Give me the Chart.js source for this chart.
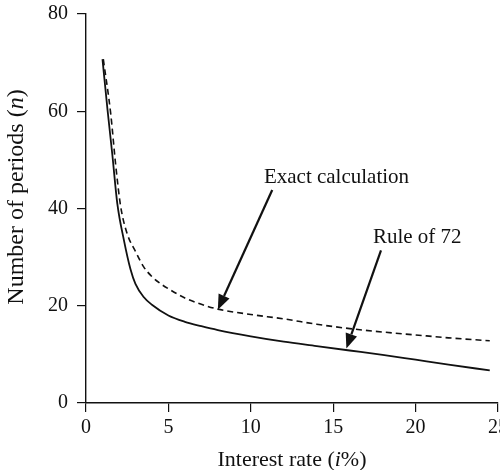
<!DOCTYPE html>
<html>
<head>
<meta charset="utf-8">
<script src="https://cdn.jsdelivr.net/npm/chart.js@4"></script>
<style>
  html, body { margin: 0; padding: 0; background: #fff; }
</style>
</head>
<body>
<canvas id="myChart" width="500" height="470"></canvas>
<script>
// values
const rateRule = [1.0, 1.3, 1.6, 1.9, 2.3, 2.7, 3.0, 3.5, 4.0, 5.0, 6.0, 7.0, 8.0, 10, 12, 14, 16, 18, 20, 22, 24.5];
const periodsRule = [70.7, 60.5, 51, 41, 33.5, 27.5, 24.5, 21.8, 20.2, 18.0, 16.7, 15.8, 15.0, 13.7, 12.6, 11.7, 10.8, 9.9, 8.9, 7.9, 6.7];
const rateExact = [1.05, 1.5, 1.8, 2.1, 2.5, 3.0, 3.5, 4.0, 4.5, 5.0, 6.0, 7.0, 8.0, 10, 12, 14, 16, 18, 20, 22, 24.5];
const periodsExact = [70.7, 59.5, 49, 40.5, 34.8, 31.2, 28, 26, 24.6, 23.5, 21.6, 20.3, 19.3, 18.2, 17.3, 16.2, 15.3, 14.6, 14.0, 13.4, 12.8];
const xTicks = [0, 5, 10, 15, 20, 25];
const yTicks = [0, 20, 40, 60, 80];

// callouts: label text, label anchor, arrow tail, arrow tip (data units)
const callouts = [
  { text: 'Exact calculation', at: [15.2, 46.4], from: [11.3, 43.8], to: [8.0, 19.2] },
  { text: 'Rule of 72', at: [20.1, 34.1], from: [17.9, 31.4], to: [15.8, 11.2] }
];

const FONT = '"Liberation Serif", "DejaVu Serif", serif';

function toPoints(xs, ys) {
  return xs.map(function (x, i) { return { x: x, y: ys[i] }; });
}

// axis titles with italic symbols + arrows and labels
const extras = {
  id: 'extras',
  afterDraw: function (chart) {
    const c = chart.ctx;
    const xs = chart.scales.x, ys = chart.scales.y;
    const area = chart.chartArea;
    c.save();
    c.fillStyle = '#111';
    c.strokeStyle = '#111';

    // x title: Interest rate (i%)
    const partsX = [['Interest rate (', false], ['i', true], ['%)', false]];
    drawParts(c, partsX, 292, 466, 22);

    // y title rotated
    c.save();
    c.translate(23, 197);
    c.rotate(-Math.PI / 2);
    const partsY = [['Number of periods (', false], ['n', true], [')', false]];
    drawParts(c, partsY, 0, 0, 24);
    c.restore();

    // callouts
    callouts.forEach(function (co) {
      c.font = '21px ' + FONT;
      c.textAlign = 'center';
      c.textBaseline = 'middle';
      c.fillText(co.text, xs.getPixelForValue(co.at[0]), ys.getPixelForValue(co.at[1]));
      const x1 = xs.getPixelForValue(co.from[0]), y1 = ys.getPixelForValue(co.from[1]);
      const x2 = xs.getPixelForValue(co.to[0]), y2 = ys.getPixelForValue(co.to[1]);
      const ang = Math.atan2(y2 - y1, x2 - x1);
      const headLen = 15, headW = 6;
      const bx = x2 - headLen * Math.cos(ang), by = y2 - headLen * Math.sin(ang);
      c.lineWidth = 2.2;
      c.beginPath();
      c.moveTo(x1, y1);
      c.lineTo(bx, by);
      c.stroke();
      c.beginPath();
      c.moveTo(x2, y2);
      c.lineTo(bx + headW * Math.sin(ang), by - headW * Math.cos(ang));
      c.lineTo(bx - headW * Math.sin(ang), by + headW * Math.cos(ang));
      c.closePath();
      c.fill();
    });
    c.restore();
  }
};

function drawParts(c, parts, cx, baseY, size) {
  c.textAlign = 'left';
  c.textBaseline = 'alphabetic';
  let total = 0;
  parts.forEach(function (p) {
    c.font = (p[1] ? 'italic ' : '') + size + 'px ' + FONT;
    total += c.measureText(p[0]).width;
  });
  let x = cx - total / 2;
  parts.forEach(function (p) {
    c.font = (p[1] ? 'italic ' : '') + size + 'px ' + FONT;
    c.fillText(p[0], x, baseY);
    x += c.measureText(p[0]).width;
  });
}

const ctx = document.getElementById('myChart').getContext('2d');
const myChart = new Chart(ctx, {
  type: 'line',
  data: {
    datasets: [
      {
        label: 'Rule of 72',
        data: toPoints(rateRule, periodsRule),
        borderColor: '#111',
        borderWidth: 1.8,
        pointRadius: 0,
        fill: false,
        cubicInterpolationMode: 'monotone'
      },
      {
        label: 'Exact calculation',
        data: toPoints(rateExact, periodsExact),
        borderColor: '#111',
        borderWidth: 1.6,
        borderDash: [6, 4],
        pointRadius: 0,
        fill: false,
        cubicInterpolationMode: 'monotone'
      }
    ]
  },
  options: {
    responsive: false,
    animation: false,
    layout: { padding: { top: 14, right: 2, left: 0, bottom: 0 } },
    plugins: {
      legend: { display: false },
      tooltip: { enabled: false }
    },
    scales: {
      x: {
        type: 'linear',
        min: 0,
        max: 25,
        afterBuildTicks: function (scale) {
          scale.ticks = xTicks.map(function (v) { return { value: v }; });
        },
        afterFit: function (scale) {
          scale.height = 67;
          scale.paddingLeft = 0;
          scale.paddingRight = 0;
        },
        grid: { drawOnChartArea: false, drawTicks: true, tickLength: 9, color: '#111', lineWidth: 1.2 },
        border: { display: true, color: '#111', width: 1.4 },
        ticks: { color: '#111', padding: 4, maxRotation: 0, font: { family: FONT, size: 20 } }
      },
      y: {
        min: 0,
        max: 80,
        afterBuildTicks: function (scale) {
          scale.ticks = yTicks.map(function (v) { return { value: v }; });
        },
        afterFit: function (scale) {
          scale.width = 86;
          scale.paddingTop = 0;
          scale.paddingBottom = 0;
        },
        grid: { drawOnChartArea: false, drawTicks: true, tickLength: 9, color: '#111', lineWidth: 1.2 },
        border: { display: true, color: '#111', width: 1.4 },
        ticks: { color: '#111', padding: 9, font: { family: FONT, size: 20 } }
      }
    }
  },
  plugins: [extras]
});
</script>
</body>
</html>
